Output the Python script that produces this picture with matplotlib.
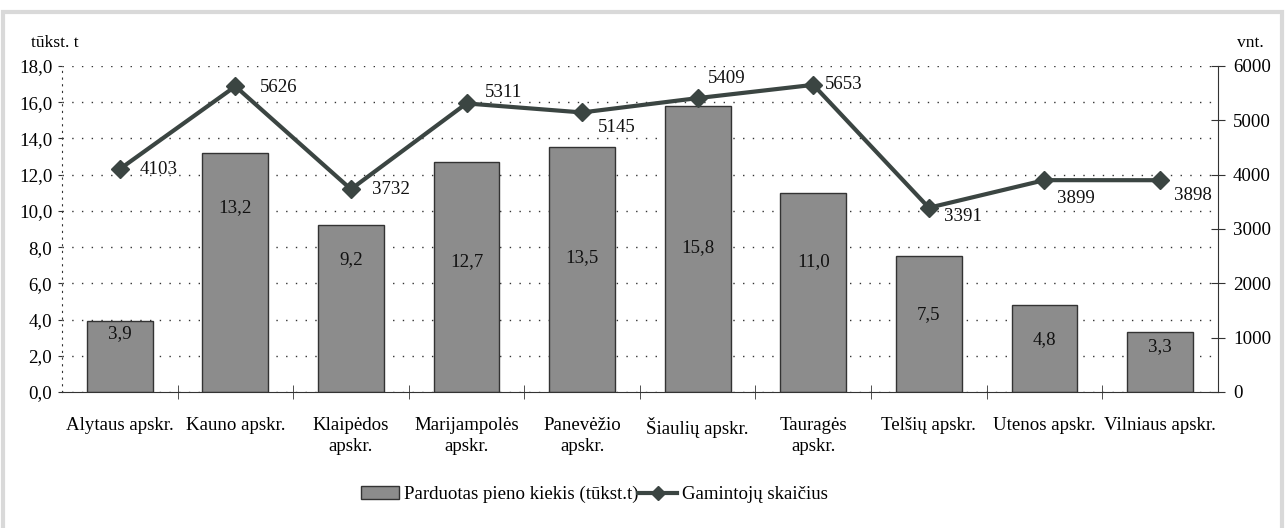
import matplotlib.pyplot as plt
from matplotlib.patches import Rectangle
import numpy as np

plt.rcParams['font.family'] = ['Liberation Serif', 'DejaVu Serif']

regions = ["Alytaus apskr.", "Kauno apskr.", "Klaipėdos\napskr.", "Marijampolės\napskr.",
           "Panevėžio\napskr.", "Šiaulių apskr.", "Tauragės\napskr.", "Telšių apskr.",
           "Utenos apskr.", "Vilniaus apskr."]
milk = [3.9, 13.2, 9.2, 12.7, 13.5, 15.8, 11.0, 7.5, 4.8, 3.3]
producers = [4103, 5626, 3732, 5311, 5145, 5409, 5653, 3391, 3899, 3898]

# where the bar labels sit (left axis units)
milk_lbl_y = [3.25, 10.2, 7.3, 7.2, 7.4, 7.95, 7.2, 4.3, 2.9, 2.5]
# offsets (points) of the line labels
prod_lbl_off = [(14, 0), (18, -1), (15, 0), (13, 8), (11, -11), (7, 14), (8, 0), (11, -6), (9, -13), (10, -11)]

bar_col = '#8c8c8c'
line_col = '#3b4542'
fs = 13.6

fig = plt.figure(figsize=(12.86, 5.28), dpi=100)
fig.patches.append(Rectangle((0.002, -0.1), 0.995, 1.078, transform=fig.transFigure,
                             fill=False, edgecolor='#d9d9d9', linewidth=3))
ax = fig.add_axes([0.0482, 0.2576, 0.8988, 0.6174])
x = np.arange(len(regions))
bars = ax.bar(x, milk, width=0.57, color=bar_col, edgecolor='#333333', linewidth=1, zorder=2,
              label='Parduotas pieno kiekis (tūkst.t)')
ax.set_xlim(-0.5, len(regions) - 0.5)
ax.set_ylim(0, 18)
ax.set_yticks(np.arange(0, 18.1, 2))
ax.set_yticklabels([f"{v:.1f}".replace('.', ',') for v in np.arange(0, 18.1, 2)], fontsize=fs)
ax.yaxis.grid(True, linestyle=(0, (1, 6)), color='#333333', linewidth=1)
ax.set_axisbelow(True)
for s in ['top', 'right']:
    ax.spines[s].set_visible(False)
ax.spines['left'].set_linestyle((0, (1, 5)))
ax.spines['left'].set_color('#333333')
ax.spines['bottom'].set_color('#333333')
ax.tick_params(axis='y', length=3, color='#333333', pad=4)
ax.set_xticks(x)
ax.set_xticklabels(regions, fontsize=fs, va='top', linespacing=1.3)
ax.tick_params(axis='x', length=0, pad=18)
ax.set_xticks(np.arange(0.5, len(regions) - 1, 1), minor=True)
ax.tick_params(axis='x', which='minor', length=10, direction='inout', color='#333333')

for xi, v, ly in zip(x, milk, milk_lbl_y):
    ax.text(xi, ly, f"{v:.1f}".replace('.', ','), ha='center', va='center', fontsize=fs, color='#111111')

ax2 = ax.twinx()
ax2.set_ylim(0, 6000)
ax2.set_yticks(np.arange(0, 6001, 1000))
ax2.tick_params(axis='y', labelsize=fs, length=10, direction='inout', color='#333333', pad=6)
for s in ['top', 'left', 'bottom']:
    ax2.spines[s].set_visible(False)
ax2.spines['right'].set_color('#333333')
ax2.plot(x, producers, color=line_col, linewidth=3, marker='D', markersize=9,
         label='Gamintojų skaičius', zorder=3)
for xi, v, off in zip(x, producers, prod_lbl_off):
    ax2.annotate(str(v), (xi, v), xytext=off, textcoords='offset points', ha='left', va='center',
                 fontsize=fs, color='#111111')

fig.text(0.024, 0.918, 'tūkst. t', fontsize=fs - 1, ha='left', va='center')
fig.text(0.962, 0.918, 'vnt.', fontsize=fs - 1, ha='left', va='center')

h1, l1 = ax.get_legend_handles_labels()
h2, l2 = ax2.get_legend_handles_labels()
fig.legend(h1 + h2, l1 + l2, loc='center', bbox_to_anchor=(0.462, 0.063), ncol=2, frameon=False,
           fontsize=fs, handlelength=2.05, columnspacing=0.0, handletextpad=0.25, markerscale=0.8)

fig.savefig('out.png', dpi=100)
